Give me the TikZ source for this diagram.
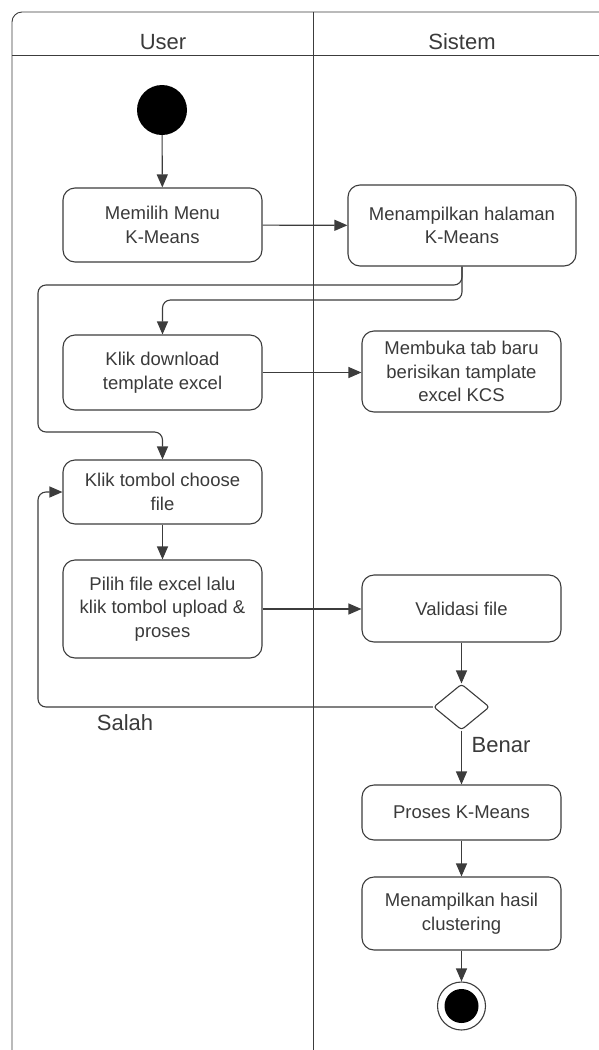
\documentclass[tikz,border=0pt]{standalone}
\usepackage{fontspec}
\setmainfont{Liberation Sans}
\usetikzlibrary{arrows.meta,shapes.geometric}
\definecolor{linegray}{HTML}{3C3C3C}
\definecolor{textgray}{HTML}{3A3A3A}
\begin{document}
\begin{tikzpicture}[x=1pt,y=-1pt,
  act/.style={draw=linegray, line width=1.1pt, rounded corners=12pt, text=textgray,
    font=\fontsize{18.5}{23.5}\selectfont, align=center, inner sep=0pt,
    minimum width=199pt},
  flow/.style={draw=linegray, line width=1.1pt, rounded corners=8pt,
    -{Triangle[length=13pt,width=11pt]}},
  lane/.style={draw=linegray, line width=0.9pt},
  lbl/.style={text=textgray, font=\fontsize{22}{26}\selectfont},
]
\useasboundingbox (0,0) rectangle (599,1050);

% swimlane frame
\draw[lane, rounded corners=10pt] (599,12) -- (12,12) -- (12,1050);
\draw[lane] (12,55) -- (599,55);
\draw[lane] (313,12) -- (313,1050);
\node[lbl] (hUser) at (163,42) {User};
\node[lbl] (hSis) at (462,42) {Sistem};

% activities
\node[circle, fill=black, minimum size=50pt, inner sep=0pt] (start) at (162,110) {};
\node[act, minimum height=74pt] (b1) at (162.5,225) {Memilih Menu\\K-Means};
\node[act, minimum width=228pt, minimum height=81pt] (b2) at (462,225.5) {Menampilkan halaman\\K-Means};
\node[act, minimum height=75pt] (b3) at (162.5,372.5) {Klik download\\template excel};
\node[act, minimum height=81pt] (b4) at (461.5,371.5) {Membuka tab baru\\berisikan tamplate\\excel KCS};
\node[act, minimum height=64pt] (b5) at (162.5,492) {Klik tombol choose\\file};
\node[act, minimum height=98pt] (b6) at (162.5,609) {Pilih file excel lalu\\klik tombol upload \&\\proses};
\node[act, minimum height=67pt] (b7) at (461.5,608.5) {Validasi file};
\node[diamond, draw=linegray, line width=1.1pt, rounded corners=3pt,
      minimum width=56pt, minimum height=46pt, inner sep=0pt] (dec) at (461.5,707) {};
\node[act, minimum height=55pt] (b8) at (461.5,812.5) {Proses K-Means};
\node[act, minimum height=73pt] (b9) at (461.5,913.5) {Menampilkan hasil\\clustering};
\node[circle, draw=linegray, line width=1.1pt, minimum size=48pt, inner sep=0pt] (end) at (461.5,1006) {};
\node[circle, fill=black, minimum size=34pt, inner sep=0pt] (endin) at (end.center) {};

% guard labels
\node[lbl] (salah) at (125,723) {Salah};
\node[lbl] (benar) at (501,745) {Benar};

% connectors
\draw[flow] (start) -- (b1);
\draw[flow] (b1) -- (b2);
\draw[flow] (b2.south) |- (38,285) |- (162.5,432) -- (b5.north);
\draw[flow] (b2.south) |- (162.5,300) -- (b3.north);
\draw[flow] (b3) -- (b3 -| b4.west);
\draw[flow] (b5) -- (b6);
\draw[flow] (b6) -- (b6 -| b7.west);
\draw[flow] (b7) -- (dec);
\draw[flow] (dec.west) -| (38,492) -- (b5.west);
\draw[flow] (dec) -- (b8);
\draw[flow] (b8) -- (b9);
\draw[flow] (b9) -- (end);
\end{tikzpicture}
\end{document}
